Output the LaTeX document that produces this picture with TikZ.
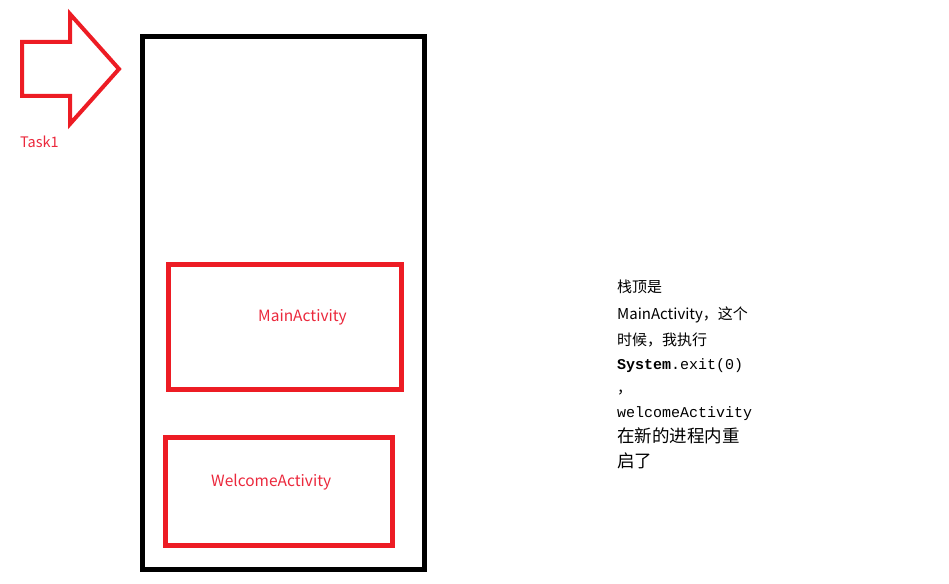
\documentclass[tikz,border=0pt]{standalone}
\usepackage{fontspec}
\setmainfont{Noto Sans CJK SC}
\newfontfamily\cjk{Noto Sans CJK SC}
\newfontfamily\monof{Liberation Mono}
\definecolor{redline}{RGB}{237,28,36}
\definecolor{redtext}{RGB}{235,40,60}
\tikzset{
  redbox/.style={draw=redline,line width=5pt},
  redlbl/.style={text=redtext,font=\fontsize{15.5}{17}\selectfont,inner sep=0pt,anchor=base west},
  note/.style={text=black,inner sep=0pt,anchor=base west,font=\fontsize{15}{17}\selectfont},
}
\begin{document}
\begin{tikzpicture}[x=1pt,y=-1pt]
\useasboundingbox (0,0) rectangle (949,583);
% arrow
\draw[draw=redline,line width=4pt,line join=miter] (22,42) -- (70,42) -- (70,14) -- (119,69) -- (70,124) -- (70,96) -- (22,96) -- cycle;
\node[redlbl,font=\fontsize{14.5}{16}\selectfont] (task) at (20,147) {Task1};
% task stack
\draw[line width=5pt] (142.5,36.5) rectangle (424.5,569.5);
\draw[redbox] (168.5,264.5) rectangle (401.5,389.5);
\draw[redbox] (165.5,437.5) rectangle (392.5,545.5);
\node[redlbl] (main) at (258,321) {MainActivity};
\node[redlbl] (welc) at (211,486) {WelcomeActivity};
% note
\node[note] (n1) at (617,292) {栈顶是};
\node[note] (n2) at (617,319) {MainActivity，这个};
\node[note] (n3) at (617,345) {时候，我执行};
\node[note] (n4) at (617,369) {{\monof\bfseries System}{\monof .exit(0)}};
\node[note] (n5) at (617,393) {，};
\node[note] (n6) at (617,417) {\monof welcomeActivity};
\node[note,font=\fontsize{17.5}{19}\selectfont] (n7) at (617,442) {在新的进程内重};
\node[note,font=\fontsize{17.5}{19}\selectfont] (n8) at (617,467) {启了};
\end{tikzpicture}
\end{document}
